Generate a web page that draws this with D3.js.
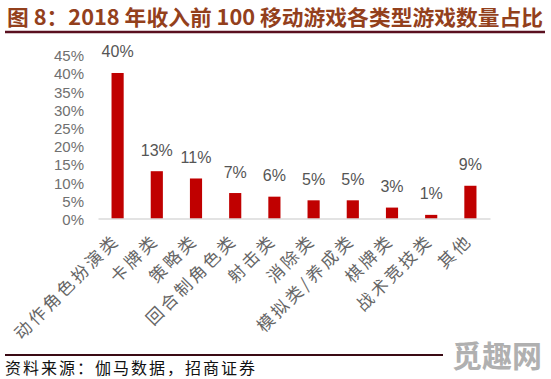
<!DOCTYPE html>
<html><head><meta charset="utf-8">
<script src="https://cdn.jsdelivr.net/npm/d3@7"></script>
<style>body{margin:0;background:#fff}svg{display:block}</style>
</head><body>
<svg id="c" width="551" height="379"></svg>
<script>
const categories = ["动作角色扮演类","卡牌类","策略类","回合制角色类","射击类","消除类","模拟类/养成类","棋牌类","战术竞技类","其他"];
const values = [40,13,11,7,6,5,5,3,1,9];
const yTicks = [0,5,10,15,20,25,30,35,40,45];
const titleText = "图 8：2018 年收入前 100 移动游戏各类型游戏数量占比";
const sourceText = "资料来源：伽马数据，招商证券";

const svg = d3.select("#c");
const cjk = "'Noto Sans CJK SC','Noto Sans',sans-serif";

// title
const t = svg.append("text").attr("x",7).attr("y",25)
  .attr("font-family",cjk).attr("font-weight","bold").attr("font-size",21)
  .attr("fill","#93401c").text(titleText);
t.attr("textLength",536).attr("lengthAdjust","spacingAndGlyphs");
svg.append("line").attr("x1",5).attr("x2",545).attr("y1",32).attr("y2",32)
  .attr("stroke","#5a1020").attr("stroke-width",2.5);

// scales
const x = d3.scaleBand().domain(categories).range([98,490]).paddingInner(0.69).paddingOuter(0.345);
const y = d3.scaleLinear().domain([0,45]).range([218.5,54.8]);

// y axis labels
const ya = svg.append("g").attr("transform","translate(84,0)")
  .call(d3.axisLeft(y).tickValues(yTicks).tickFormat(d=>d+"%").tickSize(0).tickPadding(0));
ya.select(".domain").remove();
ya.selectAll("text").attr("font-family","'Liberation Sans',Arial,sans-serif").attr("font-size",15)
  .attr("fill","#707070").attr("dy","0.4em");

// bars
svg.append("g").selectAll("rect").data(values).join("rect")
  .attr("x",(d,i)=>x(categories[i])).attr("width",x.bandwidth())
  .attr("y",d=>y(d)).attr("height",d=>y(0)-y(d)).attr("fill","#c00000");

// x axis
const xa = svg.append("g").attr("transform","translate(0,218.5)")
  .call(d3.axisBottom(x).tickSize(0).tickPadding(0));
xa.select(".domain").attr("stroke","#c8c8c8").attr("stroke-width",1.2);
xa.selectAll("text").attr("font-family",cjk).attr("font-size",17).attr("fill","#666")
  .attr("letter-spacing",3)
  .attr("text-anchor","end").attr("dy",0)
  .attr("transform","translate(3,23) rotate(-45)");

// value labels
svg.append("g").selectAll("text").data(values).join("text")
  .attr("x",(d,i)=>x(categories[i])+x.bandwidth()/2).attr("y",d=>y(d)-15.5)
  .attr("text-anchor","middle").attr("font-family","'Liberation Sans',Arial,sans-serif")
  .attr("font-size",16).attr("fill","#555").text(d=>d+"%");

// footer
svg.append("line").attr("x1",5).attr("x2",443).attr("y1",355).attr("y2",355)
  .attr("stroke","#3a0a14").attr("stroke-width",2);
svg.append("text").attr("x",5).attr("y",374).attr("font-family",cjk).attr("font-size",16)
  .attr("letter-spacing",2).attr("fill","#111").text(sourceText);
svg.append("text").attr("x",542).attr("y",367).attr("text-anchor","end").attr("font-family",cjk)
  .attr("font-weight","bold").attr("font-size",30).attr("fill","#b0b0b0").text("觅趣网");
</script>
</body></html>
